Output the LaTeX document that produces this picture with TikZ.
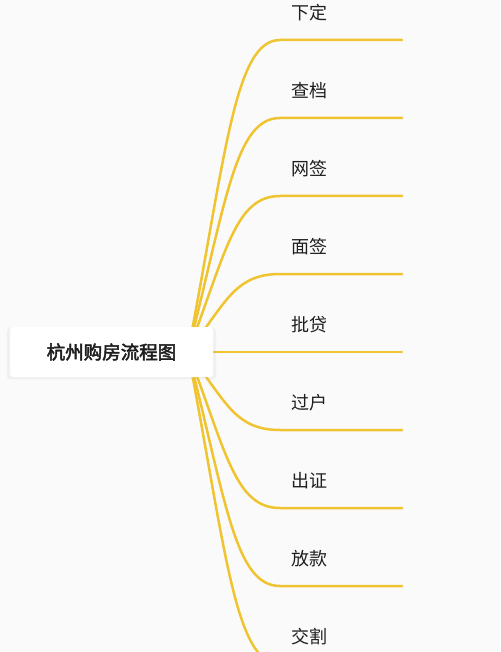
\documentclass[tikz,border=0pt]{standalone}
\usepackage{fontspec}
\usepackage{xcolor}
\setmainfont{Noto Sans CJK SC}
\newfontfamily\rootfont[FakeBold=2.5]{Noto Sans CJK SC}
\usetikzlibrary{positioning, shadows, calc}
\definecolor{bgcol}{RGB}{250,250,250}
\definecolor{branchcol}{RGB}{240,196,48}
\definecolor{textcol}{RGB}{30,30,30}
\tikzset{%
  root/.style={draw=none, fill=white, rounded corners=3pt, minimum width=203pt, minimum height=50pt,
    inner sep=0pt, font=\fontsize{18.5}{20}\rootfont, text=textcol,
    drop shadow={opacity=0.08, shadow xshift=0pt, shadow yshift=-1.5pt, shadow scale=1.03}},
  leaf/.style={inner sep=0pt, font=\fontsize{18}{20}\selectfont, text=textcol},
  branch/.style={draw=branchcol, line width=2.5pt, line cap=round}
}

\begin{document}
\begin{tikzpicture}[x=1pt, y=-1pt]
  \fill[bgcol] (0,0) rectangle (500,652);
  \useasboundingbox (0,0) rectangle (500,652);

  \coordinate (s) at (188,352);

  \node[leaf] (l0) at (309,13) {下定};
  \node[leaf] (l1) at (309,91) {查档};
  \node[leaf] (l2) at (309,169) {网签};
  \node[leaf] (l3) at (309,247) {面签};
  \node[leaf] (l4) at (309,325) {批贷};
  \node[leaf] (l5) at (309,403) {过户};
  \node[leaf] (l6) at (309,481) {出证};
  \node[leaf] (l7) at (309,559) {放款};
  \node[leaf] (l8) at (309,637) {交割};

  \coordinate (k0) at (280,40);  \coordinate (e0) at (402,40);
  \coordinate (k1) at (280,118); \coordinate (e1) at (402,118);
  \coordinate (k2) at (280,196); \coordinate (e2) at (402,196);
  \coordinate (k3) at (280,274); \coordinate (e3) at (402,274);
  \coordinate (k4) at (280,352); \coordinate (e4) at (402,352);
  \coordinate (k5) at (280,430); \coordinate (e5) at (402,430);
  \coordinate (k6) at (280,508); \coordinate (e6) at (402,508);
  \coordinate (k7) at (280,586); \coordinate (e7) at (402,586);
  \coordinate (k8) at (280,664); \coordinate (e8) at (402,664);

  \draw[branch] (s) .. controls (226,152.3) and (235,40) .. (k0) -- (e0);
  \draw[branch] (s) .. controls (226,202.2) and (235,118) .. (k1) -- (e1);
  \draw[branch] (s) .. controls (226,252.2) and (235,196) .. (k2) -- (e2);
  \draw[branch] (s) .. controls (226,302.1) and (235,274) .. (k3) -- (e3);
  \draw[branch] (s) -- (k4) -- (e4);
  \draw[branch] (s) .. controls (226,401.9) and (235,430) .. (k5) -- (e5);
  \draw[branch] (s) .. controls (226,451.8) and (235,508) .. (k6) -- (e6);
  \draw[branch] (s) .. controls (226,501.8) and (235,586) .. (k7) -- (e7);
  \draw[branch] (s) .. controls (226,551.7) and (235,664) .. (k8) -- (e8);

  \node[root] (r) at (111.5,352) {杭州购房流程图};
\end{tikzpicture}
\end{document}
